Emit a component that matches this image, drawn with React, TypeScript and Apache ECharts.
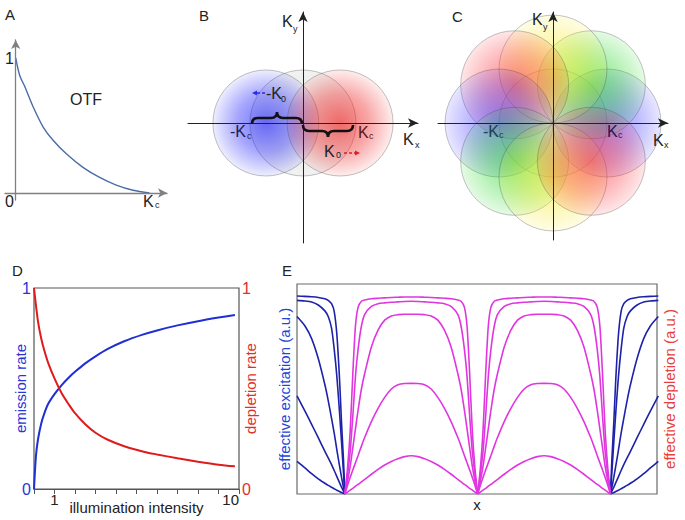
import React, { useEffect, useRef } from "react";
import * as echarts from "echarts";

const FONT = "'Liberation Sans', Arial, sans-serif";

// ---------- Panel A : OTF ----------
const otfK = [0, 0.03, 0.067, 0.129, 0.204, 0.279, 0.378, 0.502, 0.627, 0.751, 0.876, 1.0];
const otfValue = [1, 0.87, 0.79, 0.64, 0.49, 0.39, 0.29, 0.19, 0.115, 0.058, 0.02, 0];
const otfTickLabels = ["0", "1"];

// ---------- Panel B : two-beam SIM ----------
const bCenterX = [0, -0.7, 0.7];
const bCenterY = [0, 0, 0];
const bRGB = ["140,150,140", "35,35,250", "240,35,35"];

// ---------- Panel C : multi-orientation SIM ----------
const cCenterX = [0, 1, 0.71, 0, -0.71, -1, -0.71, 0, 0.71];
const cCenterY = [0, 0, 0.71, 1, 0.71, 0, -0.71, -1, -0.71];
const cRGB = [
  "150,150,150",
  "70,60,255",
  "40,215,40",
  "245,235,40",
  "250,50,60",
  "70,60,255",
  "40,215,40",
  "245,235,40",
  "250,50,60",
];

// ---------- Panel D : saturation ----------
const intensity = [0, 0.1, 0.2, 0.35, 0.5, 0.7, 1.0, 1.35, 1.7, 2.0, 2.5, 3.0, 3.6, 4.4, 5.3, 6.0, 7.0, 8.0, 9.0, 9.8];
const emissionRate = [0, 0.17, 0.25, 0.325, 0.375, 0.425, 0.472, 0.517, 0.555, 0.583, 0.625, 0.66, 0.697, 0.735, 0.768, 0.789, 0.814, 0.835, 0.853, 0.866];
const depletionRate = [1.0, 0.91, 0.83, 0.75, 0.69, 0.625, 0.55, 0.476, 0.42, 0.377, 0.322, 0.28, 0.245, 0.213, 0.187, 0.172, 0.153, 0.136, 0.121, 0.113];
const intensityTickLabels = ["1", "10"];
const rateTickLabels = ["0", "1"];

// ---------- Panel E : effective excitation / depletion profiles ----------
// distance from the nearest zero (in units of the zero spacing)
const excDist = [0, 0.01, 0.025, 0.04, 0.06, 0.08, 0.1, 0.125, 0.15, 0.2, 0.25, 0.3, 0.36];
const exc1 = [0, 0.16, 0.343, 0.55, 0.76, 0.87, 0.906, 0.922, 0.93, 0.936, 0.939, 0.941, 0.943];
const exc2 = [0, 0.1, 0.249, 0.39, 0.56, 0.69, 0.79, 0.845, 0.872, 0.9, 0.914, 0.919, 0.922];
const exc3 = [0, 0.03, 0.08, 0.135, 0.21, 0.29, 0.36, 0.445, 0.52, 0.645, 0.74, 0.8, 0.845];
const exc4 = [0, 0.013, 0.033, 0.054, 0.083, 0.112, 0.14, 0.172, 0.203, 0.268, 0.332, 0.395, 0.467];
const exc5 = [0, 0.003, 0.007, 0.012, 0.018, 0.025, 0.032, 0.041, 0.051, 0.072, 0.097, 0.124, 0.155];

const depDist = [0, 0.02, 0.04, 0.06, 0.08, 0.1, 0.125, 0.15, 0.2, 0.25, 0.3, 0.35, 0.4, 0.45, 0.5];
const dep1 = [0, 0.12, 0.296, 0.57, 0.8, 0.89, 0.918, 0.924, 0.93, 0.932, 0.934, 0.936, 0.937, 0.938, 0.938];
const dep2 = [0, 0.09, 0.2, 0.37, 0.56, 0.69, 0.8, 0.855, 0.893, 0.906, 0.91, 0.913, 0.915, 0.917, 0.918];
const dep3 = [0, 0.06, 0.13, 0.22, 0.31, 0.4, 0.5, 0.575, 0.7, 0.78, 0.828, 0.848, 0.854, 0.856, 0.856];
const dep4 = [0, 0.04, 0.078, 0.114, 0.149, 0.183, 0.228, 0.27, 0.345, 0.408, 0.46, 0.5, 0.52, 0.526, 0.527];
const dep5 = [0, 0.009, 0.018, 0.027, 0.037, 0.046, 0.058, 0.07, 0.094, 0.117, 0.138, 0.155, 0.168, 0.178, 0.182];

const zeroPositions = [0, 1, 2];

const panelLetters = ["A", "B", "C", "D", "E"];

echarts.graphic.registerShape(
  "braceUp",
  echarts.graphic.extendPath("M0,12 Q0,6 6,6 L19,6 Q25,6 25,0 Q25,6 31,6 L44,6 Q50,6 50,12", {})
);
echarts.graphic.registerShape(
  "braceDown",
  echarts.graphic.extendPath("M0,0 Q0,6 6,6 L19,6 Q25,6 25,12 Q25,6 31,6 L44,6 Q50,6 50,0", {})
);

const radial = (rgb: string, a0: number, aMid: number, a1: number) => ({
  type: "radial",
  x: 0.5,
  y: 0.5,
  r: 0.5,
  colorStops: [
    { offset: 0, color: `rgba(${rgb},${a0})` },
    { offset: 0.55, color: `rgba(${rgb},${aMid})` },
    { offset: 1, color: `rgba(${rgb},${a1})` },
  ],
});

const txt = (text: string, x: number, y: number, size: number, color: string, align = "left") => ({
  type: "text",
  x,
  y,
  z: 100,
  silent: true,
  style: {
    text,
    fill: color,
    font: `${size}px ${FONT}`,
    textAlign: align,
    textVerticalAlign: "middle",
    align,
    verticalAlign: "middle",
  },
});

const subTxt = (
  main: string,
  sub: string,
  x: number,
  y: number,
  subX: number,
  subY: number,
  color: string
) => [txt(main, x, y, 16, color), txt(sub, subX, subY, 9, color)];

const hiddenAxis = {
  axisLine: { show: false },
  axisTick: { show: false },
  axisLabel: { show: false },
  splitLine: { show: false },
};

function buildOption() {
  const series: any[] = [];

  // A
  series.push({
    type: "line",
    xAxisIndex: 0,
    yAxisIndex: 0,
    data: otfK.map((k, i) => [k, otfValue[i]]),
    showSymbol: false,
    smooth: 0.3,
    lineStyle: { color: "#4a6ca8", width: 1.4 },
    z: 2,
  });

  // B
  series.push({
    type: "scatter",
    xAxisIndex: 1,
    yAxisIndex: 1,
    symbol: "circle",
    symbolSize: 106,
    emphasis: { disabled: true },
    z: 1,
    data: bCenterX.map((x, i) => ({
      value: [x, bCenterY[i]],
      itemStyle: {
        color: i === 0 ? radial(bRGB[i], 0.3, 0.22, 0.16) : radial(bRGB[i], 0.82, 0.5, 0.1),
        borderColor: "rgba(80,80,80,0.55)",
        borderWidth: 0.8,
      },
    })),
  });

  // C
  series.push({
    type: "scatter",
    xAxisIndex: 2,
    yAxisIndex: 2,
    symbol: "circle",
    symbolSize: 108,
    emphasis: { disabled: true },
    z: 1,
    data: cCenterX.map((x, i) => ({
      value: [x, cCenterY[i]],
      itemStyle: {
        color: i === 0 ? radial(cRGB[i], 0.18, 0.14, 0.1) : radial(cRGB[i], 0.75, 0.45, 0.15),
        borderColor: "rgba(70,70,70,0.5)",
        borderWidth: 0.8,
      },
    })),
  });

  // D
  series.push({
    type: "line",
    xAxisIndex: 3,
    yAxisIndex: 3,
    data: intensity.map((x, i) => [x, emissionRate[i]]),
    showSymbol: false,
    smooth: 0.3,
    lineStyle: { color: "#1f2fd2", width: 2 },
  });
  series.push({
    type: "line",
    xAxisIndex: 3,
    yAxisIndex: 4,
    data: intensity.map((x, i) => [x, depletionRate[i]]),
    showSymbol: false,
    smooth: 0.3,
    lineStyle: { color: "#e01b1b", width: 2 },
  });

  // E
  const excCurves = [exc1, exc2, exc3, exc4, exc5];
  const depCurves = [dep1, dep2, dep3, dep4, dep5];
  const eLine = (data: number[][], color: string) => ({
    type: "line",
    xAxisIndex: 4,
    yAxisIndex: 5,
    data,
    showSymbol: false,
    smooth: 0.25,
    lineStyle: { color, width: 1.6 },
  });
  excCurves.forEach((c) => {
    series.push(eLine(excDist.map((d, i) => [zeroPositions[0] - d, c[i]]).reverse(), "#1e22a8"));
    series.push(eLine(excDist.map((d, i) => [zeroPositions[2] + d, c[i]]), "#1e22a8"));
  });
  depCurves.forEach((c) => {
    for (let h = 0; h < 2; h++) {
      const z0 = zeroPositions[h];
      const z1 = zeroPositions[h + 1];
      const up = depDist.map((d, i) => [z0 + d, c[i]]);
      const down = depDist
        .map((d, i) => [z1 - d, c[i]])
        .reverse()
        .slice(1);
      series.push(eLine(up.concat(down), "#e036e0"));
    }
  });

  const arrowAxisLine = (color: string, w: number, size: number[]) => ({
    show: true,
    onZero: true,
    symbol: ["none", "arrow"],
    symbolSize: size,
    lineStyle: { color, width: w },
  });

  const graphic: any[] = [];
  const letterPos = [
    [5, 14],
    [199, 15],
    [452, 16],
    [12, 270],
    [282, 270],
  ];
  panelLetters.forEach((l, i) => graphic.push(txt(l, letterPos[i][0], letterPos[i][1], 15, "#222")));

  // A labels
  graphic.push(txt(otfTickLabels[1], 5, 58, 16, "#222"));
  graphic.push(txt(otfTickLabels[0], 5, 201, 16, "#222"));
  graphic.push(...subTxt("K", "c", 143, 201, 155, 205, "#222"));
  graphic.push(txt("OTF", 70, 99, 16, "#222"));

  // B labels
  graphic.push(...subTxt("K", "y", 282, 21, 293, 29, "#222"));
  graphic.push(...subTxt("K", "x", 403, 139, 415, 145, "#222"));
  graphic.push(...subTxt("-K", "c", 230, 131, 247, 136, "#1c1c58"));
  graphic.push(...subTxt("K", "c", 358, 132, 369, 136, "#5a1818"));
  graphic.push(...subTxt("-K", "0", 266, 93, 281, 99, "#222"));
  graphic.push(...subTxt("K", "0", 324, 151, 336, 155, "#222"));
  graphic.push({
    type: "braceUp",
    x: 252,
    y: 112,
    z: 100,
    silent: true,
    style: { stroke: "#111", fill: "none", lineWidth: 2.6 },
  });
  graphic.push({
    type: "braceDown",
    x: 303,
    y: 125,
    z: 100,
    silent: true,
    style: { stroke: "#111", fill: "none", lineWidth: 2.6 },
  });
  graphic.push({
    type: "line",
    z: 100,
    silent: true,
    shape: { x1: 265, y1: 93, x2: 256, y2: 93 },
    style: { stroke: "#2a2af0", lineWidth: 1.3, lineDash: [3, 2] },
  });
  graphic.push({
    type: "polygon",
    z: 100,
    silent: true,
    shape: { points: [[252, 93], [257, 90.5], [257, 95.5]] },
    style: { fill: "#2a2af0" },
  });
  graphic.push({
    type: "line",
    z: 100,
    silent: true,
    shape: { x1: 344, y1: 153, x2: 355, y2: 153 },
    style: { stroke: "#e02020", lineWidth: 1.3, lineDash: [3, 2] },
  });
  graphic.push({
    type: "polygon",
    z: 100,
    silent: true,
    shape: { points: [[360, 153], [355, 150.5], [355, 155.5]] },
    style: { fill: "#e02020" },
  });

  // C labels
  graphic.push(...subTxt("K", "y", 532, 19, 543, 27, "#222"));
  graphic.push(...subTxt("-K", "c", 483, 131, 499, 135, "#1d4050"));
  graphic.push(...subTxt("K", "c", 607, 131, 618, 135, "#26125a"));
  graphic.push(...subTxt("K", "x", 653, 140, 664, 145, "#222"));

  return {
    animation: false,
    backgroundColor: "#fff",
    textStyle: { fontFamily: FONT },
    grid: [
      { left: 5, top: 40, width: 162, height: 160 },
      { left: 188, top: 12, width: 230, height: 231 },
      { left: 438, top: 12, width: 230, height: 228 },
      { left: 34, top: 288, width: 205, height: 201, show: true, borderColor: "#555", borderWidth: 1.2 },
      { left: 297, top: 284, width: 365, height: 210, show: true, borderColor: "#6a6a6a", borderWidth: 1.2 },
    ],
    xAxis: [
      {
        gridIndex: 0,
        type: "value",
        min: -0.08,
        max: 1.13,
        z: 5,
        axisLine: arrowAxisLine("#808080", 1.3, [7, 9]),
        axisTick: { show: false },
        axisLabel: { show: false },
        splitLine: { show: false },
      },
      {
        gridIndex: 1,
        type: "value",
        min: -2.17,
        max: 2.17,
        z: 5,
        axisLine: arrowAxisLine("#222", 1, [7, 10]),
        axisTick: { show: false },
        axisLabel: { show: false },
        splitLine: { show: false },
      },
      {
        gridIndex: 2,
        type: "value",
        min: -2.13,
        max: 2.13,
        z: 5,
        axisLine: arrowAxisLine("#222", 1, [7, 10]),
        axisTick: { show: false },
        axisLabel: { show: false },
        splitLine: { show: false },
      },
      {
        gridIndex: 3,
        type: "value",
        min: 0,
        max: 10,
        interval: 1,
        axisLine: { show: true, lineStyle: { color: "#555", width: 1.2 } },
        axisTick: { show: true, length: 5, lineStyle: { color: "#555" } },
        axisLabel: {
          margin: 3,
          fontSize: 15,
          color: "#222",
          alignMaxLabel: "right",
          formatter: (v: number) => (intensityTickLabels.includes(String(v)) ? String(v) : ""),
        },
        splitLine: { show: false },
        name: "illumination intensity",
        nameLocation: "middle",
        nameGap: 11,
        nameMoveOverlap: false,
        nameTextStyle: { fontSize: 15, color: "#222" },
      },
      {
        gridIndex: 4,
        type: "value",
        min: -0.36,
        max: 2.35,
        ...hiddenAxis,
        name: "x",
        nameLocation: "middle",
        nameGap: 3,
        nameMoveOverlap: false,
        nameTextStyle: { fontSize: 15, color: "#222", verticalAlign: "top" },
      },
    ],
    yAxis: [
      {
        gridIndex: 0,
        type: "value",
        min: -0.052,
        max: 1.133,
        z: 5,
        axisLine: arrowAxisLine("#808080", 1.3, [7, 9]),
        axisTick: { show: false },
        axisLabel: { show: false },
        splitLine: { show: false },
      },
      {
        gridIndex: 1,
        type: "value",
        min: -2.264,
        max: 2.094,
        z: 5,
        axisLine: arrowAxisLine("#222", 1, [7, 10]),
        axisTick: { show: false },
        axisLabel: { show: false },
        splitLine: { show: false },
      },
      {
        gridIndex: 2,
        type: "value",
        min: -2.17,
        max: 2.06,
        z: 5,
        axisLine: arrowAxisLine("#222", 1, [7, 10]),
        axisTick: { show: false },
        axisLabel: { show: false },
        splitLine: { show: false },
      },
      {
        gridIndex: 3,
        type: "value",
        min: 0,
        max: 1,
        interval: 1,
        axisLine: { show: false },
        axisTick: { show: false },
        splitLine: { show: false },
        axisLabel: {
          margin: 3,
          fontSize: 16,
          color: "#2a35d8",
          formatter: (v: number) => (rateTickLabels.includes(String(v)) ? String(v) : ""),
        },
        name: "emission rate",
        nameLocation: "middle",
        nameRotate: 90,
        nameGap: 6,
        nameMoveOverlap: false,
        nameTextStyle: { fontSize: 15, color: "#2a35d8" },
      },
      {
        gridIndex: 3,
        type: "value",
        position: "right",
        min: 0,
        max: 1,
        interval: 1,
        axisLine: { show: false },
        axisTick: { show: false },
        splitLine: { show: false },
        axisLabel: {
          margin: 3,
          fontSize: 16,
          color: "#e0302a",
          formatter: (v: number) => (rateTickLabels.includes(String(v)) ? String(v) : ""),
        },
        name: "depletion rate",
        nameLocation: "middle",
        nameRotate: 90,
        nameGap: 4,
        nameMoveOverlap: false,
        nameTextStyle: { fontSize: 15, color: "#e0302a" },
      },
      {
        gridIndex: 4,
        type: "value",
        min: 0,
        max: 1,
        ...hiddenAxis,
        name: "effective excitation (a.u.)",
        nameLocation: "middle",
        nameRotate: 90,
        nameGap: 5,
        nameMoveOverlap: false,
        nameTextStyle: { fontSize: 15, color: "#2446d8" },
      },
      {
        gridIndex: 4,
        type: "value",
        position: "right",
        min: 0,
        max: 1,
        ...hiddenAxis,
        name: "effective depletion (a.u.)",
        nameLocation: "middle",
        nameRotate: 90,
        nameGap: 5,
        nameMoveOverlap: false,
        nameTextStyle: { fontSize: 15, color: "#e8403a" },
      },
    ],
    series,
    graphic,
  };
}

export default function App() {
  const ref = useRef<HTMLDivElement>(null);
  useEffect(() => {
    if (!ref.current) return;
    const chart = echarts.init(ref.current, undefined, { renderer: "svg" });
    chart.setOption(buildOption() as any);
    return () => chart.dispose();
  }, []);
  return (
    <div
      ref={ref}
      style={{ position: "absolute", left: 0, top: 0, width: 685, height: 520, background: "#fff" }}
    />
  );
}
